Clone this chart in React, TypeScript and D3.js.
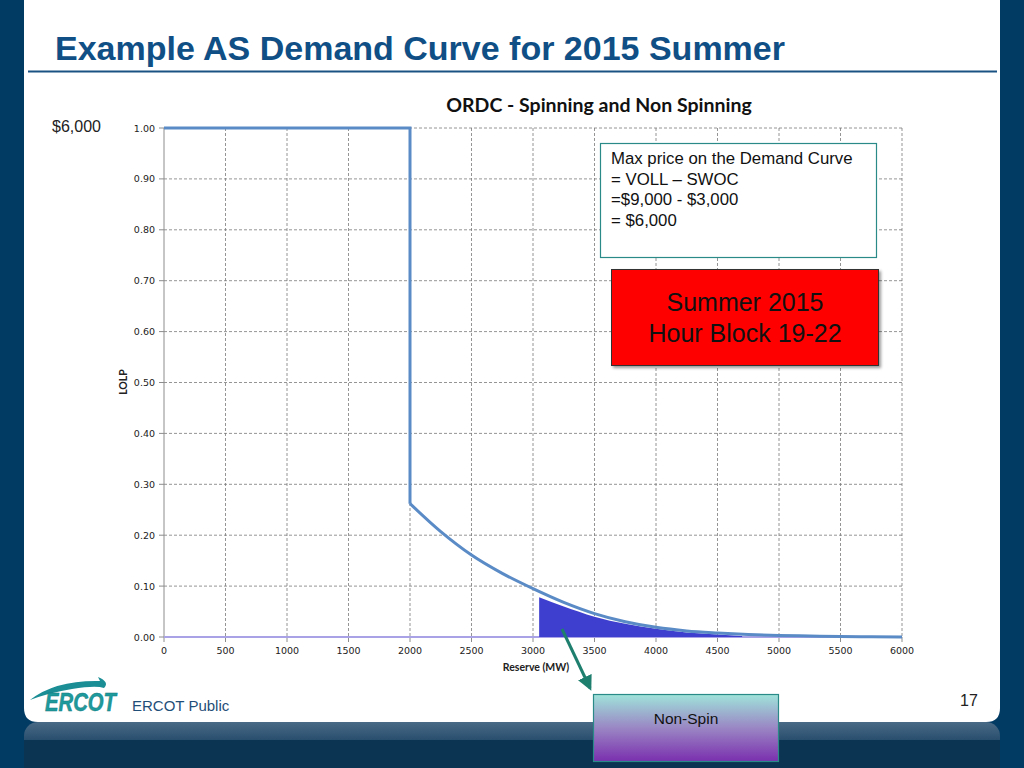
import React from "react";
import * as d3 from "d3";

const xTicks = [0, 500, 1000, 1500, 2000, 2500, 3000, 3500, 4000, 4500, 5000, 5500, 6000];
const yTicks = [0, 0.1, 0.2, 0.3, 0.4, 0.5, 0.6, 0.7, 0.8, 0.9, 1.0];

// Flat part and drop of the ORDC
const stepReserve = [0, 2000, 2000];
const stepLolp = [1.0, 1.0, 0.262];

// Decaying tail of the ORDC
const tailReserve = [2000, 2250, 2500, 2750, 3000, 3250, 3500, 3750, 4000, 4250, 4500, 4750, 5000, 5250, 5500, 5750, 6000];
const tailLolp = [0.262, 0.207, 0.161, 0.125, 0.095, 0.068, 0.046, 0.030, 0.019, 0.012, 0.008, 0.005, 0.003, 0.002, 0.001, 0.0005, 0.0];

// Non-spin shaded area
const nsReserve = [3050, 3250, 3500, 3750, 4000, 4250, 4500, 4700];
const nsLolp = [0.078, 0.060, 0.040, 0.026, 0.016, 0.009, 0.005, 0.002];

const boxLines = ["Max price on the Demand Curve", "= VOLL \u2013 SWOC", "=$9,000 - $3,000", "= $6,000"];

export default function App() {
  const x = d3.scaleLinear().domain([0, 6000]).range([164, 902]);
  const y = d3.scaleLinear().domain([0, 1]).range([637, 128]);

  const stepPath = d3.line<number>().x((d, i) => x(stepReserve[i])).y((d) => y(d))(stepLolp) || "";
  const tailPath =
    d3
      .line<number>()
      .x((d, i) => x(tailReserve[i]))
      .y((d) => y(d))
      .curve(d3.curveMonotoneX)(tailLolp) || "";
  const nsArea =
    d3
      .area<number>()
      .x((d, i) => x(nsReserve[i]))
      .y0(y(0))
      .y1((d) => y(d))
      .curve(d3.curveMonotoneX)(nsLolp) || "";

  const tickFont = "'DejaVu Sans', Verdana, sans-serif";

  return (
    <svg width={1024} height={768} style={{ position: "absolute", left: 0, top: 0 }} fontFamily="'Liberation Sans', Arial, sans-serif">
      <defs>
        <linearGradient id="barGrad" x1="0" y1="0" x2="0" y2="1">
          <stop offset="0" stopColor="#4a6a86" />
          <stop offset="0.5" stopColor="#1f4767" />
          <stop offset="1" stopColor="#0b3352" />
        </linearGradient>
        <linearGradient id="nsGrad" x1="0" y1="0" x2="0" y2="1">
          <stop offset="0" stopColor="#9fe3da" />
          <stop offset="0.5" stopColor="#9a86c4" />
          <stop offset="1" stopColor="#7a2fae" />
        </linearGradient>
        <filter id="shadow" x="-10%" y="-10%" width="130%" height="130%">
          <feDropShadow dx="2" dy="2" stdDeviation="1.5" floodColor="#000" floodOpacity="0.4" />
        </filter>
        <marker id="arrow" viewBox="0 0 10 10" refX="8" refY="5" markerWidth="5" markerHeight="5" orient="auto">
          <path d="M0,0 L10,5 L0,10 z" fill="#1f7f6e" />
        </marker>
      </defs>
      {/* background */}
      <rect x={0} y={0} width={1024} height={768} fill="#013a63" />
      <rect x={24} y={722} width={976} height={46} fill="url(#barGrad)" rx={14} />
      <rect x={24} y={740} width={976} height={28} fill="#0b3352" />
      <path d="M24,0 H1000 V708 Q1000,722 986,722 H38 Q24,722 24,708 Z" fill="#ffffff" />

      {/* title */}
      <text x={55} y={60} fontSize={33} fontWeight="bold" fill="#0f4f86" textLength={730} lengthAdjust="spacingAndGlyphs">
        Example AS Demand Curve for 2015 Summer
      </text>
      <line x1={28} x2={997} y1={71.5} y2={71.5} stroke="#1a5283" strokeWidth={2} />

      {/* chart title */}
      <text x={599} y={112} fontSize={19.5} fontWeight="bold" fill="#111" textAnchor="middle" fontFamily="Lato, 'Open Sans', sans-serif">
        ORDC - Spinning and Non Spinning
      </text>

      {/* grid */}
      {xTicks.slice(1).map((t) => (
        <line key={"gx" + t} x1={x(t)} x2={x(t)} y1={y(1)} y2={y(0)} stroke="#7a7a7a" strokeWidth={0.8} strokeDasharray="3,2" />
      ))}
      {yTicks.slice(1).map((t) => (
        <line key={"gy" + t} x1={x(0)} x2={x(6000)} y1={y(t)} y2={y(t)} stroke="#7a7a7a" strokeWidth={0.8} strokeDasharray="3,2" />
      ))}
      {/* axes */}
      <line x1={x(0)} x2={x(0)} y1={y(1)} y2={y(0)} stroke="#8c8c8c" strokeWidth={1} />
      {yTicks.map((t) => (
        <g key={"yt" + t}>
          <line x1={x(0) - 5} x2={x(0)} y1={y(t)} y2={y(t)} stroke="#8c8c8c" />
          <text x={x(0) - 9} y={y(t) + 3.5} fontSize={9.5} textAnchor="end" fill="#222" fontFamily={tickFont}>
            {t.toFixed(2)}
          </text>
        </g>
      ))}
      {xTicks.map((t) => (
        <g key={"xt" + t}>
          <line x1={x(t)} x2={x(t)} y1={y(0)} y2={y(0) + 5} stroke="#8c8c8c" />
          <text x={x(t)} y={y(0) + 17} fontSize={9.5} textAnchor="middle" fill="#222" fontFamily={tickFont}>
            {t}
          </text>
        </g>
      ))}
      <line x1={x(0)} x2={x(6000)} y1={y(0)} y2={y(0)} stroke="#a9a2e6" strokeWidth={2} />

      {/* non-spin area */}
      <path d={nsArea} fill="#3f3fcf" />
      {/* curve */}
      <path d={stepPath} fill="none" stroke="#5b8bc6" strokeWidth={3} />
      <path d={tailPath} fill="none" stroke="#5b8bc6" strokeWidth={3} />

      {/* axis titles */}
      <text x={536} y={671} fontSize={10.5} fontWeight="bold" textAnchor="middle" fill="#222" fontFamily="Lato, 'Open Sans', sans-serif">
        Reserve (MW)
      </text>
      <text transform="translate(127,382) rotate(-90)" fontSize={10.5} fontWeight="bold" textAnchor="middle" fill="#222" fontFamily="Lato, 'Open Sans', sans-serif">
        LOLP
      </text>

      <text x={52} y={132} fontSize={16} fill="#222">
        $6,000
      </text>

      {/* annotation box */}
      <rect x={600.5} y={143.5} width={276} height={114} fill="#fff" stroke="#2a8a88" strokeWidth={1.2} />
      {boxLines.map((s, i) => (
        <text key={s} x={611} y={164 + i * 20.7} fontSize={16.8} fill="#111">
          {s}
        </text>
      ))}

      {/* red box */}
      <rect x={611.5} y={269.5} width={267} height={96} fill="#ff0000" stroke="#333" strokeWidth={1} filter="url(#shadow)" />
      <text x={745} y={311} fontSize={25} textAnchor="middle" fill="#111">
        Summer 2015
      </text>
      <text x={745} y={342} fontSize={25} textAnchor="middle" fill="#111">
        Hour Block 19-22
      </text>

      {/* arrow */}
      <line x1={562} y1={629} x2={590} y2={688} stroke="#1f7f6e" strokeWidth={3} markerEnd="url(#arrow)" />

      {/* Non-spin box */}
      <rect x={593.5} y={694.5} width={185} height={67} fill="url(#nsGrad)" stroke="#2a8a88" strokeWidth={1.2} />
      <text x={686} y={724} fontSize={15.5} textAnchor="middle" fill="#111">
        Non-Spin
      </text>

      {/* footer */}
      <text x={969} y={706} fontSize={16} textAnchor="middle" fill="#222">
        17
      </text>
      <text x={132} y={711} fontSize={15} fill="#1f4e79">
        ERCOT Public
      </text>
      {/* logo */}
      <path d="M30,700 Q55,680 100,681 L98,677 Q110,682 104,688 Q96,685 72,689 Q48,693 30,700 Z" fill="#1a8d95" />
      <text x={45} y={711} fontSize={26} fontWeight="bold" fontStyle="italic" fill="#1e9a9c" textLength={71} lengthAdjust="spacingAndGlyphs" stroke="#127a80" strokeWidth={0.5}>
        ERCOT
      </text>
    </svg>
  );
}
